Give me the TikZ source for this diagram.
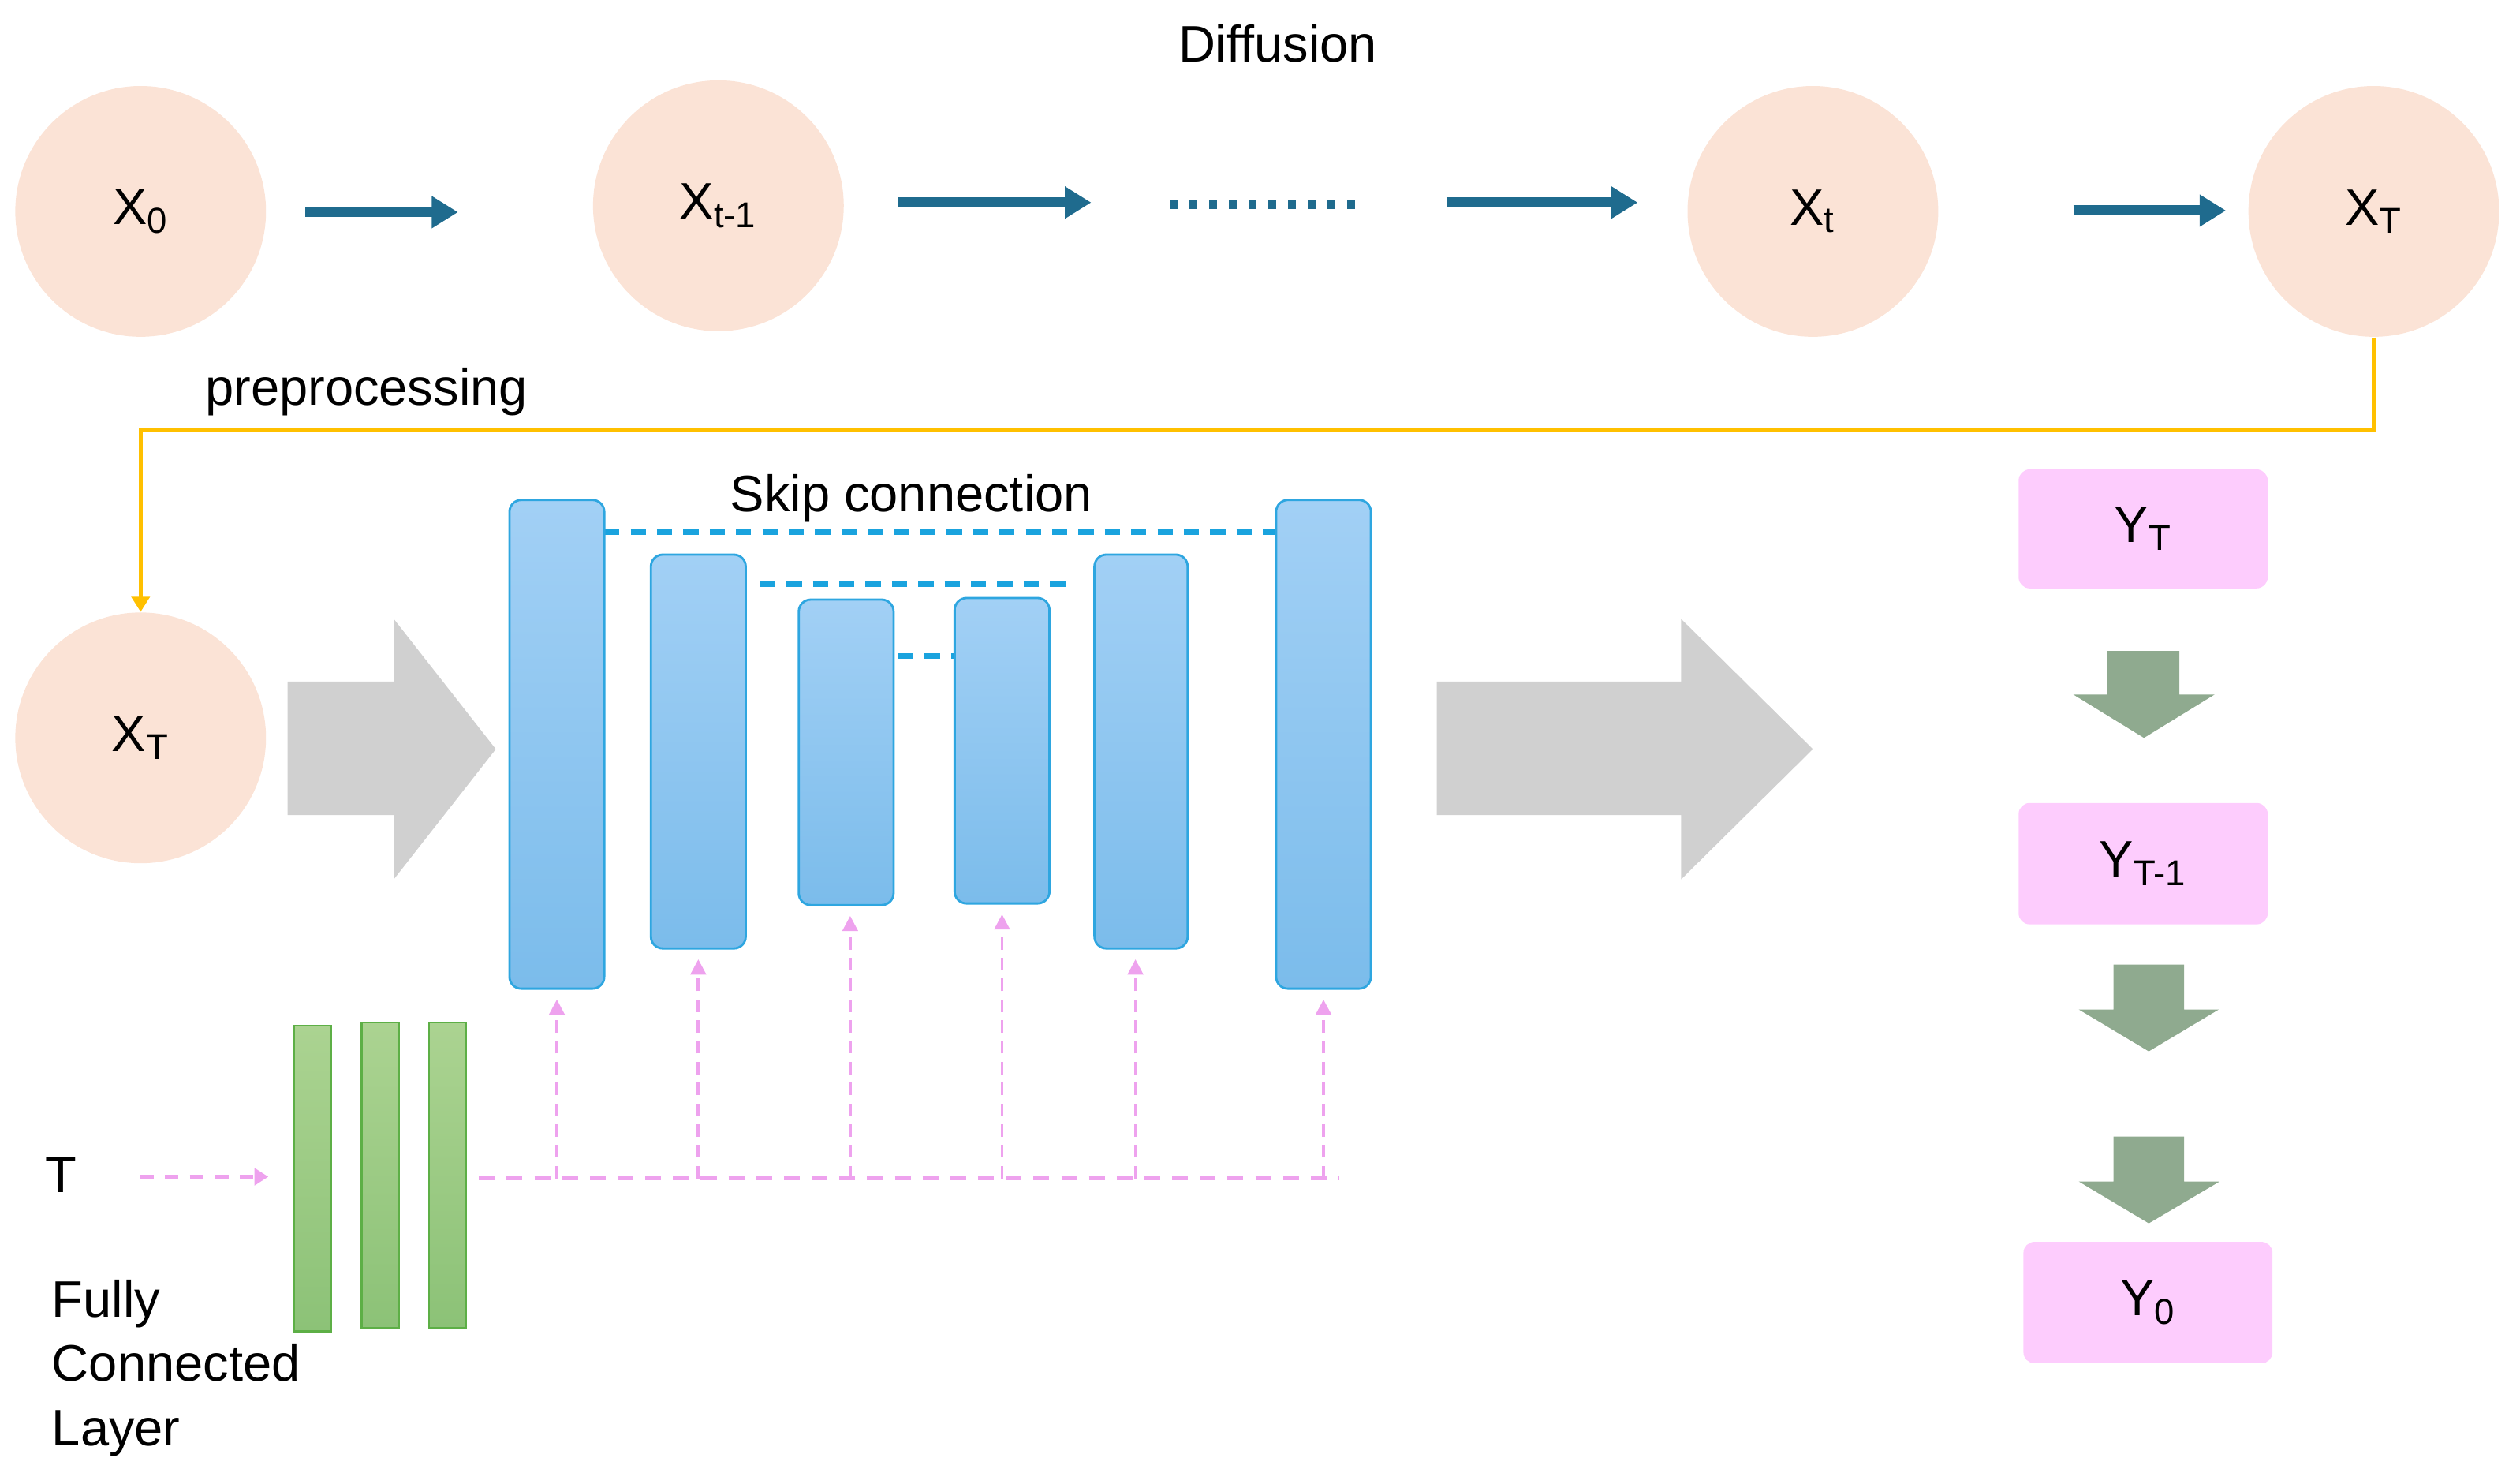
\documentclass[tikz,border=0pt]{standalone}
\usepackage{fontspec}
\setmainfont{Liberation Sans}
\usetikzlibrary{arrows.meta,fit,calc}
\newcommand\pxu{0.020376cm}
\definecolor{peach}{HTML}{FBE3D6}
\definecolor{flowblue}{HTML}{1F6B8E}
\definecolor{yel}{HTML}{FFC000}
\definecolor{grayarr}{HTML}{D0D0D0}
\definecolor{barTop}{HTML}{A2D0F5}
\definecolor{barBot}{HTML}{7BBCEB}
\definecolor{barEdge}{HTML}{2EA6E0}
\definecolor{skipblue}{HTML}{1AA3DE}
\definecolor{fcTop}{HTML}{ABD391}
\definecolor{fcBot}{HTML}{8CC277}
\definecolor{fcEdge}{HTML}{5DAF46}
\definecolor{pinkline}{HTML}{EEA2EE}
\definecolor{pinkbox}{HTML}{FDCCFD}
\definecolor{downarr}{HTML}{8FAA8F}
\tikzset{
  lbl/.style={font=\fontsize{18.5}{23.2}\selectfont, inner sep=0pt},
  statenode/.style={circle, fill=peach, minimum size={156*\pxu}, inner sep=0pt, font=\fontsize{18.5}{22}\selectfont},
  flowarr/.style={draw=flowblue, line width=3.7pt, -{Triangle[length=9.5pt,width=11pt]}},
  flowdots/.style={draw=flowblue, line width=3.4pt, dash pattern=on 2.85pt off 4.25pt},
  prepline/.style={draw=yel, line width=1.4pt, -{Triangle[length=5.5pt,width=6.5pt]}},
  unetbar/.style={draw=barEdge, line width=0.8pt, rounded corners=4.3pt, top color=barTop, bottom color=barBot, inner sep=0pt},
  skipline/.style={draw=skipblue, line width=2pt, dash pattern=on 5.5pt off 4pt},
  fcbar/.style={draw=fcEdge, line width=0.8pt, top color=fcTop, bottom color=fcBot, inner sep=0pt},
  timeline/.style={draw=pinkline, line width=1.6pt, dash pattern=on 5.7pt off 4.3pt},
  timearr/.style={draw=pinkline, line width=1.1pt, dash pattern=on 4.5pt off 3pt, -{Triangle[length=5.5pt,width=5.5pt]}, shorten >=3.5pt},
  tinput/.style={draw=pinkline, line width=1.6pt, dash pattern=on 5pt off 4pt, -{Triangle[length=5pt,width=6pt]}},
  outbox/.style={fill=pinkbox, rounded corners=4pt, inner sep=0pt, font=\fontsize{18.5}{22}\selectfont},
}
\begin{document}
\begin{tikzpicture}[x=0.020376cm, y=-0.020376cm]
\useasboundingbox (0,0) rectangle (1568,923);

% ---- Diffusion row ----
\node[lbl] (title) at (795,27) {Diffusion};
\node[statenode] (x0) at (87.5,131.5) {X\textsubscript{0}};
\node[statenode] (xtm1) at (447,128) {X\textsubscript{t-1}};
\node[statenode] (xt) at (1128,131.5) {X\textsubscript{t}};
\node[statenode] (xT) at (1477,131.5) {X\textsubscript{T}};

\coordinate (a1s) at (190,132); \coordinate (a1e) at (285,132);
\coordinate (a2s) at (559,126); \coordinate (a2e) at (679,126);
\coordinate (d1s) at (728,127); \coordinate (d1e) at (845,127);
\coordinate (a3s) at (900,126); \coordinate (a3e) at (1019,126);
\coordinate (a4s) at (1290,131); \coordinate (a4e) at (1385,131);
\draw[flowarr] (a1s) -- (a1e);
\draw[flowarr] (a2s) -- (a2e);
\draw[flowdots] (d1s) -- (d1e);
\draw[flowarr] (a3s) -- (a3e);
\draw[flowarr] (a4s) -- (a4e);

% ---- preprocessing ----
\node[lbl] (prep) at (228,244) {preprocessing};
\node[statenode] (xTb) at (87.5,459) {X\textsubscript{T}};
\coordinate (prepy) at (0,267);
\draw[prepline] (xT.south) |- (prepy -| xTb.north) -- (xTb.north);

% ---- big gray arrows ----
\fill[grayarr] (179,424) -- (245,424) -- (245,385) -- (308.5,466) -- (245,547) -- (245,507) -- (179,507) -- cycle;
\fill[grayarr] (894,424) -- (1046,424) -- (1046,385) -- (1128,466) -- (1046,547) -- (1046,507) -- (894,507) -- cycle;

% ---- U-Net bars ----
\node[lbl] (skiplbl) at (567,310) {Skip connection};
\draw[skipline] (376,331) -- (794,331);
\draw[skipline] (473,363.5) -- (666,363.5);
\draw[skipline] (559,408) -- (597,408);
\node[unetbar, fit={(317,311) (376,615)}] (b1) {};
\node[unetbar, fit={(405,345) (464,590)}] (b2) {};
\node[unetbar, fit={(497,373) (556,563)}] (b3) {};
\node[unetbar, fit={(594,372) (653,562)}] (b4) {};
\node[unetbar, fit={(681,345) (739,590)}] (b5) {};
\node[unetbar, fit={(794,311) (853,615)}] (b6) {};

% ---- time embedding ----
\node[lbl] (tlbl) at (38,731) {T};
\node[lbl, anchor=west, align=left] (fcl) at (32,851) {Fully\\Connected\\Layer};
\node[fcbar, fit={(183,638) (206,828)}] (fc1) {};
\node[fcbar, fit={(225,636) (248,826)}] (fc2) {};
\node[fcbar, fit={(267,636) (290,826)}] (fc3) {};
\coordinate (tin) at (87,732);
\coordinate (tend) at (167,732);
\draw[tinput] (tin) -- (tend);
\coordinate (hs) at (298,733);
\coordinate (he) at (833,733);
\draw[timeline] (hs) -- (he);
\draw[timearr] (b1.south |- hs) -- (b1.south);
\draw[timearr] (b2.south |- hs) -- (b2.south);
\draw[timearr] ([xshift=2.5*\pxu]b3.south |- hs) -- ([xshift=2.5*\pxu]b3.south);
\draw[timearr] (b4.south |- hs) -- (b4.south);
\draw[timearr] ([xshift=-3.5*\pxu]b5.south |- hs) -- ([xshift=-3.5*\pxu]b5.south);
\draw[timearr] (b6.south |- hs) -- (b6.south);

% ---- output chain ----
\node[outbox, fit={(1256,292) (1411,366)}] (yT) {};
\node[lbl] at (yT.center) {Y\textsubscript{T}};
\node[outbox, fit={(1256,499.5) (1411,575)}] (yTm1) {};
\node[lbl] at (yTm1.center) {Y\textsubscript{T-1}};
\node[outbox, fit={(1259,772.5) (1414,848)}] (y0) {};
\node[lbl] at (y0.center) {Y\textsubscript{0}};

\fill[downarr] (1311,405) -- (1356,405) -- (1356,432) -- (1378,432) -- (1334,459) -- (1290,432) -- (1311,432) -- cycle;
\fill[downarr] (1315,600) -- (1359,600) -- (1359,628) -- (1380.5,628) -- (1337,654) -- (1293.5,628) -- (1315,628) -- cycle;
\fill[downarr] (1315,707) -- (1359,707) -- (1359,735) -- (1381,735) -- (1337,761) -- (1293.5,735) -- (1315,735) -- cycle;
\end{tikzpicture}
\end{document}
